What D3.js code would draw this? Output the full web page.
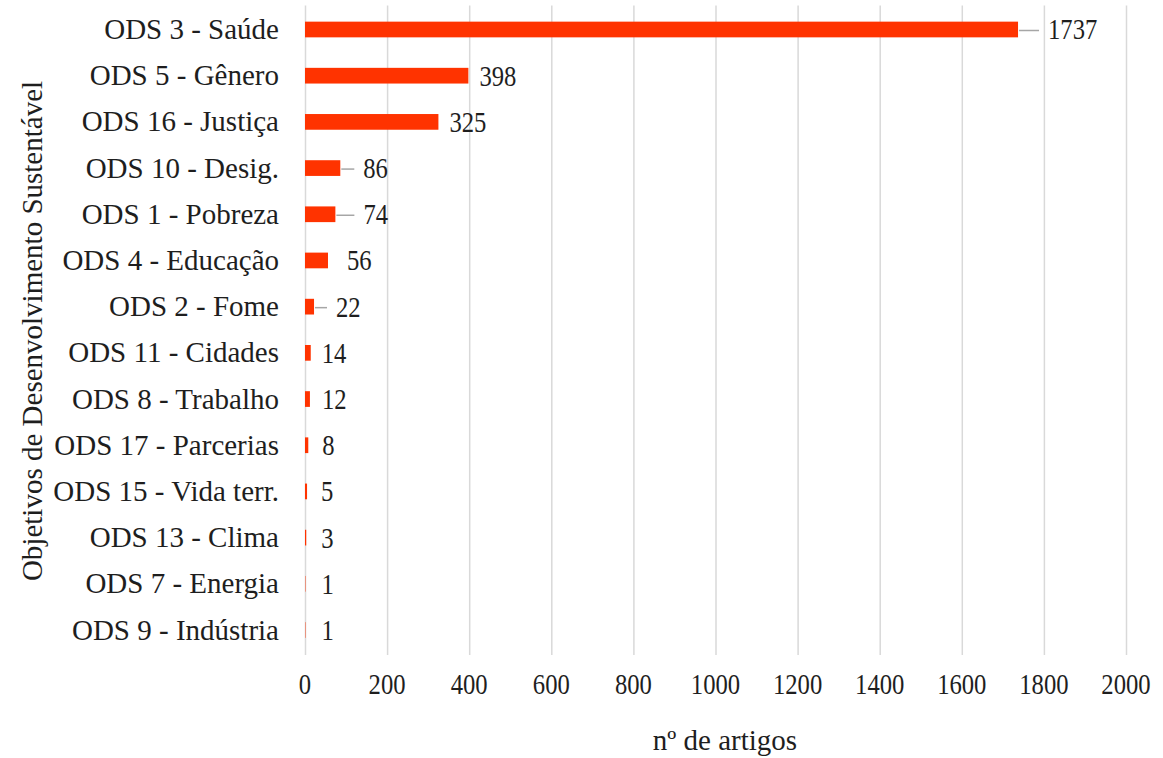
<!DOCTYPE html>
<html>
<head>
<meta charset="utf-8">
<script src="https://cdn.jsdelivr.net/npm/d3@7"></script>
<style>
  html, body { margin: 0; padding: 0; background: #fff; }
  svg { display: block; }
</style>
</head>
<body>
<svg id="chart" width="1163" height="758"></svg>
<script>
// ---- data ----
const categories = [
  "ODS 3 - Saúde", "ODS 5 - Gênero", "ODS 16 - Justiça", "ODS 10 - Desig.",
  "ODS 1 - Pobreza", "ODS 4 - Educação", "ODS 2 - Fome", "ODS 11 - Cidades",
  "ODS 8 - Trabalho", "ODS 17 - Parcerias", "ODS 15 - Vida terr.", "ODS 13 - Clima",
  "ODS 7 - Energia", "ODS 9 - Indústria"
];
const values = [1737, 398, 325, 86, 74, 56, 22, 14, 12, 8, 5, 3, 1, 1];
const xTicks = [0, 200, 400, 600, 800, 1000, 1200, 1400, 1600, 1800, 2000];
const xTitle = "nº de artigos";
const yTitle = "Objetivos de Desenvolvimento Sustentável";

// ---- label layout (pixel gaps from bar end, leader line flags) ----
const labelGap = [30, 11, 11, 23, 28, 19, 22, 11, 12, 14, 14, 15, 16, 16];
const hasLeader = [true, false, false, true, true, false, true, false, false, false, false, false, false, false];

// ---- layout ----
const plotLeft = 305, plotRight = 1126, plotTop = 6.4, plotBottom = 653.1;
const FONT = "Liberation Serif";
const fontSize = "29px";
const textColor = "#1e1e1e";
const numScale = 0.85;
const barColor = "#ff3300";
const gridColor = "#d9d9d9";

const svg = d3.select("#chart");

const x = d3.scaleLinear().domain([0, 2000]).range([plotLeft, plotRight]);
const y = d3.scaleBand().domain(categories).range([plotTop, plotBottom]).paddingInner(0.66).paddingOuter(0.33);

function styleText(sel) {
  return sel.style("font-family", FONT).style("font-size", fontSize).style("fill", textColor);
}

// gridlines
const grid = svg.append("g")
  .attr("transform", `translate(0,${plotBottom + 2})`)
  .call(d3.axisBottom(x).tickValues(xTicks).tickSize(-(plotBottom + 2 - plotTop + 1)).tickFormat(""));
grid.select(".domain").remove();
grid.selectAll(".tick line").attr("stroke", gridColor).attr("stroke-width", 1.5);

// x tick labels
svg.append("g").selectAll("text")
  .data(xTicks)
  .join("text")
  .attr("transform", d => `translate(${x(d)},694) scale(${numScale},1)`)
  .attr("text-anchor", "middle")
  .call(styleText)
  .text(d => d);

// bars
const bandCenter = c => y(c) + y.bandwidth() / 2;
svg.append("g").selectAll("rect")
  .data(values)
  .join("rect")
  .attr("x", x(0))
  .attr("y", (d, i) => y(categories[i]))
  .attr("width", d => x(d) - x(0))
  .attr("height", y.bandwidth())
  .attr("fill", barColor);

// y axis labels
const yAxis = svg.append("g")
  .attr("transform", `translate(${plotLeft - 26},0)`)
  .call(d3.axisLeft(y).tickSize(0).tickPadding(0))
  .attr("font-family", FONT);
yAxis.select(".domain").remove();
yAxis.selectAll(".tick text")
  .call(styleText)
  .attr("dy", null)
  .attr("y", 9.6)
  .attr("x", 0)
  .attr("text-anchor", "end");

// leader lines
svg.append("g").selectAll("line")
  .data(values.map((v, i) => ({ v, i })).filter(d => hasLeader[d.i]))
  .join("line")
  .attr("x1", d => x(d.v) + 1)
  .attr("x2", d => x(d.v) + labelGap[d.i] - 9)
  .attr("y1", d => bandCenter(categories[d.i]) + 1)
  .attr("y2", d => bandCenter(categories[d.i]) + 1)
  .attr("stroke", "#a6a6a6")
  .attr("stroke-width", 1.5);

// data labels
svg.append("g").selectAll("text")
  .data(values)
  .join("text")
  .attr("transform", (d, i) => `translate(${x(d) + labelGap[i]},${bandCenter(categories[i]) + 10}) scale(${numScale},1)`)
  .attr("text-anchor", "start")
  .call(styleText)
  .text(d => d);

// axis titles
svg.append("text")
  .attr("x", 725)
  .attr("y", 750)
  .attr("text-anchor", "middle")
  .call(styleText)
  .text(xTitle);

svg.append("text")
  .attr("transform", "translate(42,331) rotate(-90)")
  .attr("text-anchor", "middle")
  .call(styleText)
  .text(yTitle);
</script>
</body>
</html>
